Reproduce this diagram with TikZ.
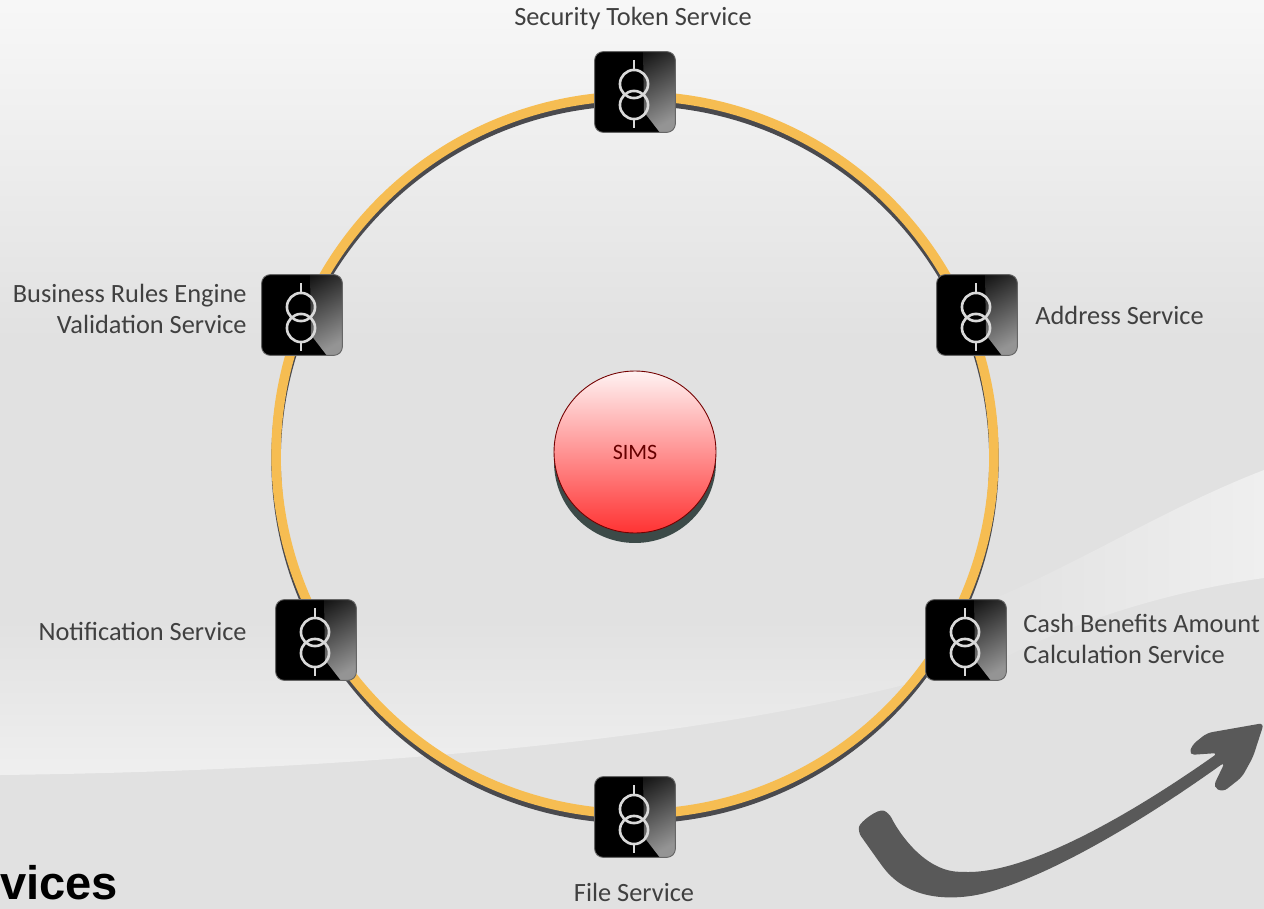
\documentclass[tikz,border=0pt]{standalone}
\usepackage{fontspec}
\usepackage{xcolor}
\setmainfont{Carlito}
\newfontfamily\headfont{Liberation Sans}
\usetikzlibrary{arrows.meta}
\definecolor{backgrey}{HTML}{E1E1E1}
\definecolor{swooshlight}{HTML}{EFEFEF}
\definecolor{ringyellow}{HTML}{F6BD52}
\definecolor{ringdark}{HTML}{4A4A4E}
\definecolor{hubdark}{HTML}{3C4A48}
\definecolor{arrowgrey}{HTML}{595959}
\definecolor{labelgrey}{HTML}{404040}
\tikzset{
  servicebox/.style={draw=black!60!white, line width=0.5pt, fill=black, rounded corners=5pt, minimum size=46pt, inner sep=0pt,
    path picture={
      \shade[sharp corners, top color=black, bottom color=black!42!white, shading angle=30] (path picture bounding box.center) ++(8,-42) -- ++(34,0) -- ++(0,84) -- ++(-16,0) -- ++(-17,-22) -- cycle;
      \draw[white!85!black, line width=1.5pt] (path picture bounding box.center) ++(-1,-8) circle (8pt);
      \draw[white!85!black, line width=1.5pt] (path picture bounding box.center) ++(-1,13) circle (8pt);
      \draw[white!85!black, line width=1.5pt] (path picture bounding box.center) ++(-1,-32) -- ++(0,10);
      \draw[white!85!black, line width=1.5pt] (path picture bounding box.center) ++(-1,27) -- ++(0,9);
    }},
  servicelabel/.style={text=labelgrey, inner sep=0pt, font=\fontsize{15}{18}\selectfont},
}
\begin{document}
\begin{tikzpicture}[x=0.02cm, y=-0.02cm]
  \useasboundingbox (0,0) rectangle (1264,909);
  % backdrop
  \fill[backgrey] (0,0) rectangle (1264,909);
  \shade[top color=black!3!white, bottom color=backgrey] (0,0) rectangle (1264,340);
  \shade[top color=backgrey, bottom color=swooshlight]
    (0,620) -- (0,775) .. controls (420,770) and (760,730) .. (966,668) -- (966,620) -- cycle;
  \shade[left color=backgrey, middle color=black!8!white, right color=swooshlight]
    (966,610) .. controls (1070,570) and (1160,510) .. (1264,470) -- (1264,578) .. controls (1180,590) and (1090,615) .. (1010,655) -- (966,668) -- cycle;
  % ring
  \draw[ringdark, line width=5.4pt] (635,460) circle (7.18cm);
  \draw[ringyellow, line width=5.4pt] (635,455) circle (7.18cm);
  % hub
  \fill[hubdark] (635,462) circle (1.62cm);
  \node[circle, draw=black!55!red, line width=0.5pt, minimum size=3.24cm, inner sep=0pt, shading=axis, top color=white!95!red, middle color=red!40!white, bottom color=red!80!white, text=black!60!red, font=\fontsize{12.5}{14}\selectfont] (sims) at (635,452) {SIMS};
  % services
  \node[servicebox] (token) at (635,92) {};
  \node[servicebox] (address) at (977,315) {};
  \node[servicebox] (cash) at (966,640) {};
  \node[servicebox] (file) at (635,817) {};
  \node[servicebox] (notify) at (316,640) {};
  \node[servicebox] (rules) at (302,315) {};
  % labels
  \node[servicelabel] (tokenlabel) at (633,18) {Security Token Service};
  \node[servicelabel, anchor=west] (addresslabel) at (1035,315) {Address Service};
  \node[servicelabel, anchor=west, align=left] (cashlabel) at (1023,639) {Cash Benefits Amount\\Calculation Service};
  \node[servicelabel] (filelabel) at (634,892) {File Service};
  \node[servicelabel, anchor=east] (notifylabel) at (247,631) {Notification Service};
  \node[servicelabel, anchor=east, align=right] (ruleslabel) at (247,309) {Business Rules Engine\\Validation Service};
  \node[anchor=base west, inner sep=0pt, font=\headfont\bfseries\fontsize{26.8}{30}\selectfont] (heading) at (0,899) {vices};
  % sweeping arrow
  \fill[arrowgrey, rounded corners=3pt]
    (858,832) .. controls (860,822) and (878,808) .. (889,813) .. controls (900,835) and (925,870) .. (963,872)
    .. controls (1030,872) and (1130,815) .. (1218,753)
    -- (1189,755) -- (1192,745) -- (1207,733) -- (1264,723) -- (1253,757) -- (1242,777) -- (1223,792) -- (1213,787) -- (1225,762)
    .. controls (1130,830) and (1040,880) .. (977,895) .. controls (930,902) and (900,890) .. (880,863) -- cycle;
\end{tikzpicture}
\end{document}
